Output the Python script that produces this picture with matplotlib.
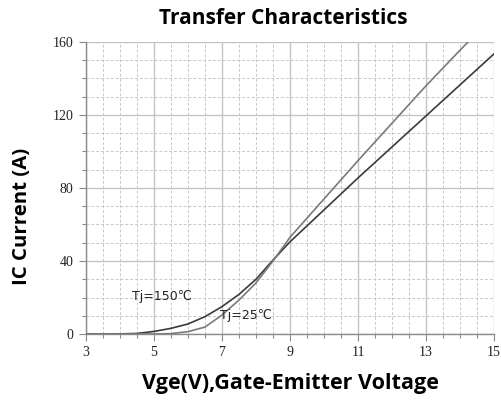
import matplotlib
matplotlib.use("Agg")
import matplotlib.pyplot as plt
from matplotlib.ticker import MultipleLocator

# Data
vge = [3, 3.5, 4, 4.5, 5, 5.5, 6, 6.5, 7, 7.5, 8, 8.5, 9, 10, 11, 12, 13, 14, 15]
ic_150 = [0, 0, 0.05, 0.3, 1.4, 3.1, 5.5, 9.5, 15, 21.7, 30, 40.5, 50.5, 68, 85.5, 102.5, 119.5, 136.5, 153.5]
vge_25 = [3, 4, 4.5, 5, 5.5, 6, 6.5, 7, 7.5, 8, 8.5, 9, 10, 11, 12, 13, 14, 14.5]
ic_25 = [0, 0, 0, 0, 0.2, 1.3, 3.8, 10.4, 18.6, 28, 40, 53, 74, 95, 115.5, 136, 155.5, 165]

title = "Transfer Characteristics"
xlabel = "Vge(V),Gate-Emitter Voltage"
ylabel = "IC Current (A)"
xticks = [3, 5, 7, 9, 11, 13, 15]
yticks = [0, 40, 80, 120, 160]

fig = plt.figure(figsize=(5.02, 4.01), dpi=100)
ax = fig.add_axes([86/502, 1-334/401, (494-86)/502, (334-42)/401])

ax.plot(vge, ic_150, color="#3a3a3a", lw=1.2, zorder=3)
ax.plot(vge_25, ic_25, color="#7a7a7a", lw=1.2, zorder=3)

ax.set_xlim(3, 15)
ax.set_ylim(0, 160)
ax.set_xticks(xticks)
ax.set_yticks(yticks)
ax.xaxis.set_minor_locator(MultipleLocator(0.5))
ax.yaxis.set_minor_locator(MultipleLocator(10))

ax.grid(which="major", color="#c4c4c4", lw=1.0, ls="-", zorder=0)
ax.grid(which="minor", color="#c8c8c8", lw=0.7, ls=(0, (3, 2)), zorder=0)
ax.set_axisbelow(True)

for s in ["top", "right"]:
    ax.spines[s].set_visible(False)
for s in ["left", "bottom"]:
    ax.spines[s].set_color("#8a8a8a")
    ax.spines[s].set_linewidth(1.0)

ax.tick_params(which="major", length=5, color="#8a8a8a", width=0.8,
               labelsize=10, labelcolor="#222222", pad=4)
ax.tick_params(which="minor", length=3, color="#8a8a8a", width=0.8)
for lab in ax.get_xticklabels() + ax.get_yticklabels():
    lab.set_family("Liberation Serif")

ax.text(4.35, 20.3, "Tj=150℃", fontsize=9, color="#222222", va="center", ha="left",
        family=["DejaVu Sans", "Noto Sans CJK JP"])
ax.text(6.94, 9.9, "Tj=25℃", fontsize=9, color="#222222", va="center", ha="left",
        family=["DejaVu Sans", "Noto Sans CJK JP"])

fig.text(283/502, 1-18/401, title, fontsize=15, fontweight="bold", family="Open Sans",
         ha="center", va="center")
fig.text(290/502, 1-383/401, xlabel, fontsize=15.5, fontweight="bold", family="Open Sans",
         ha="center", va="center")
fig.text(22/502, 1-216/401, ylabel, fontsize=14.7, fontweight="bold", family="Open Sans",
         ha="center", va="center", rotation=90)

fig.savefig("out.png", dpi=100)
